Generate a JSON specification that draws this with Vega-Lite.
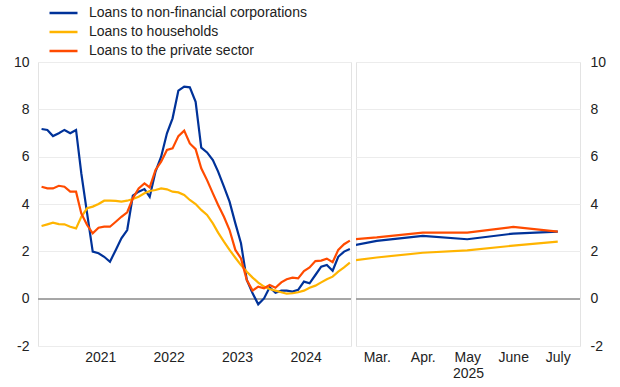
{
  "$schema": "https://vega.github.io/schema/vega-lite/v6.json",
  "background": "white",
  "padding": {"left": 12, "top": 6, "right": 0, "bottom": 0},
  "config": {
    "font": "Liberation Sans",
    "view": {"stroke": "#e3e3e3", "strokeWidth": 1},
    "axis": {
      "labelFont": "Liberation Sans",
      "labelFontSize": 14,
      "labelColor": "#222222",
      "titleFont": "Liberation Sans",
      "titleFontSize": 14,
      "titleFontWeight": "normal",
      "titleColor": "#222222",
      "domain": false,
      "ticks": false,
      "gridColor": "#ececec",
      "gridWidth": 1
    },
    "legend": {
      "orient": "none",
      "legendX": 10,
      "legendY": -56,
      "direction": "vertical",
      "title": null,
      "labelFont": "Liberation Sans",
      "labelFontSize": 14,
      "labelColor": "#222222",
      "labelLimit": 0,
      "symbolType": "stroke",
      "symbolStrokeWidth": 2.5,
      "symbolSize": 784,
      "clipHeight": 14,
      "labelOffset": 10,
      "rowPadding": 5
    }
  },
  "datasets": {
    "loans": [
      {"date": "2020-08-01", "Loans to non-financial corporations": 7.17, "Loans to households": 3.07, "Loans to the private sector": 4.73},
      {"date": "2020-09-01", "Loans to non-financial corporations": 7.13, "Loans to households": 3.14, "Loans to the private sector": 4.66},
      {"date": "2020-10-01", "Loans to non-financial corporations": 6.87, "Loans to households": 3.21, "Loans to the private sector": 4.66},
      {"date": "2020-11-01", "Loans to non-financial corporations": 6.99, "Loans to households": 3.15, "Loans to the private sector": 4.77},
      {"date": "2020-12-01", "Loans to non-financial corporations": 7.13, "Loans to households": 3.14, "Loans to the private sector": 4.73},
      {"date": "2021-01-01", "Loans to non-financial corporations": 6.99, "Loans to households": 3.04, "Loans to the private sector": 4.52},
      {"date": "2021-02-01", "Loans to non-financial corporations": 7.13, "Loans to households": 2.97, "Loans to the private sector": 4.52},
      {"date": "2021-03-01", "Loans to non-financial corporations": 5.3, "Loans to households": 3.46, "Loans to the private sector": 3.6},
      {"date": "2021-04-01", "Loans to non-financial corporations": 3.6, "Loans to households": 3.82, "Loans to the private sector": 3.11},
      {"date": "2021-05-01", "Loans to non-financial corporations": 1.99, "Loans to households": 3.89, "Loans to the private sector": 2.76},
      {"date": "2021-06-01", "Loans to non-financial corporations": 1.92, "Loans to households": 4.0, "Loans to the private sector": 3.0},
      {"date": "2021-07-01", "Loans to non-financial corporations": 1.77, "Loans to households": 4.14, "Loans to the private sector": 3.04},
      {"date": "2021-08-01", "Loans to non-financial corporations": 1.56, "Loans to households": 4.14, "Loans to the private sector": 3.04},
      {"date": "2021-09-01", "Loans to non-financial corporations": 2.06, "Loans to households": 4.13, "Loans to the private sector": 3.25},
      {"date": "2021-10-01", "Loans to non-financial corporations": 2.55, "Loans to households": 4.1, "Loans to the private sector": 3.46},
      {"date": "2021-11-01", "Loans to non-financial corporations": 2.9, "Loans to households": 4.14, "Loans to the private sector": 3.65},
      {"date": "2021-12-01", "Loans to non-financial corporations": 4.35, "Loans to households": 4.21, "Loans to the private sector": 4.24},
      {"date": "2022-01-01", "Loans to non-financial corporations": 4.52, "Loans to households": 4.31, "Loans to the private sector": 4.66},
      {"date": "2022-02-01", "Loans to non-financial corporations": 4.63, "Loans to households": 4.45, "Loans to the private sector": 4.87},
      {"date": "2022-03-01", "Loans to non-financial corporations": 4.3, "Loans to households": 4.55, "Loans to the private sector": 4.7},
      {"date": "2022-04-01", "Loans to non-financial corporations": 5.37, "Loans to households": 4.59, "Loans to the private sector": 5.44},
      {"date": "2022-05-01", "Loans to non-financial corporations": 6.0, "Loans to households": 4.66, "Loans to the private sector": 5.79},
      {"date": "2022-06-01", "Loans to non-financial corporations": 6.99, "Loans to households": 4.62, "Loans to the private sector": 6.28},
      {"date": "2022-07-01", "Loans to non-financial corporations": 7.62, "Loans to households": 4.52, "Loans to the private sector": 6.35},
      {"date": "2022-08-01", "Loans to non-financial corporations": 8.79, "Loans to households": 4.49, "Loans to the private sector": 6.87},
      {"date": "2022-09-01", "Loans to non-financial corporations": 8.96, "Loans to households": 4.38, "Loans to the private sector": 7.1},
      {"date": "2022-10-01", "Loans to non-financial corporations": 8.93, "Loans to households": 4.17, "Loans to the private sector": 6.56},
      {"date": "2022-11-01", "Loans to non-financial corporations": 8.32, "Loans to households": 4.0, "Loans to the private sector": 6.32},
      {"date": "2022-12-01", "Loans to non-financial corporations": 6.38, "Loans to households": 3.75, "Loans to the private sector": 5.51},
      {"date": "2023-01-01", "Loans to non-financial corporations": 6.18, "Loans to households": 3.54, "Loans to the private sector": 5.01},
      {"date": "2023-02-01", "Loans to non-financial corporations": 5.86, "Loans to households": 3.18, "Loans to the private sector": 4.45},
      {"date": "2023-03-01", "Loans to non-financial corporations": 5.37, "Loans to households": 2.79, "Loans to the private sector": 3.96},
      {"date": "2023-04-01", "Loans to non-financial corporations": 4.73, "Loans to households": 2.41, "Loans to the private sector": 3.46},
      {"date": "2023-05-01", "Loans to non-financial corporations": 4.1, "Loans to households": 2.06, "Loans to the private sector": 2.9},
      {"date": "2023-06-01", "Loans to non-financial corporations": 3.18, "Loans to households": 1.73, "Loans to the private sector": 2.06},
      {"date": "2023-07-01", "Loans to non-financial corporations": 2.34, "Loans to households": 1.42, "Loans to the private sector": 1.7},
      {"date": "2023-08-01", "Loans to non-financial corporations": 0.79, "Loans to households": 1.14, "Loans to the private sector": 0.79},
      {"date": "2023-09-01", "Loans to non-financial corporations": 0.23, "Loans to households": 0.89, "Loans to the private sector": 0.34},
      {"date": "2023-10-01", "Loans to non-financial corporations": -0.24, "Loans to households": 0.68, "Loans to the private sector": 0.51},
      {"date": "2023-11-01", "Loans to non-financial corporations": 0.01, "Loans to households": 0.51, "Loans to the private sector": 0.44},
      {"date": "2023-12-01", "Loans to non-financial corporations": 0.48, "Loans to households": 0.41, "Loans to the private sector": 0.58},
      {"date": "2024-01-01", "Loans to non-financial corporations": 0.25, "Loans to households": 0.34, "Loans to the private sector": 0.46},
      {"date": "2024-02-01", "Loans to non-financial corporations": 0.34, "Loans to households": 0.27, "Loans to the private sector": 0.69},
      {"date": "2024-03-01", "Loans to non-financial corporations": 0.34, "Loans to households": 0.21, "Loans to the private sector": 0.82},
      {"date": "2024-04-01", "Loans to non-financial corporations": 0.3, "Loans to households": 0.23, "Loans to the private sector": 0.89},
      {"date": "2024-05-01", "Loans to non-financial corporations": 0.37, "Loans to households": 0.27, "Loans to the private sector": 0.86},
      {"date": "2024-06-01", "Loans to non-financial corporations": 0.72, "Loans to households": 0.34, "Loans to the private sector": 1.17},
      {"date": "2024-07-01", "Loans to non-financial corporations": 0.65, "Loans to households": 0.46, "Loans to the private sector": 1.32},
      {"date": "2024-08-01", "Loans to non-financial corporations": 1.0, "Loans to households": 0.55, "Loans to the private sector": 1.59},
      {"date": "2024-09-01", "Loans to non-financial corporations": 1.35, "Loans to households": 0.69, "Loans to the private sector": 1.61},
      {"date": "2024-10-01", "Loans to non-financial corporations": 1.42, "Loans to households": 0.82, "Loans to the private sector": 1.69},
      {"date": "2024-11-01", "Loans to non-financial corporations": 1.18, "Loans to households": 0.93, "Loans to the private sector": 1.54},
      {"date": "2024-12-01", "Loans to non-financial corporations": 1.77, "Loans to households": 1.14, "Loans to the private sector": 2.06},
      {"date": "2025-01-01", "Loans to non-financial corporations": 1.99, "Loans to households": 1.32, "Loans to the private sector": 2.3},
      {"date": "2025-02-01", "Loans to non-financial corporations": 2.1, "Loans to households": 1.52, "Loans to the private sector": 2.45},
      {"date": "2025-03-01", "Loans to non-financial corporations": 2.44, "Loans to households": 1.74, "Loans to the private sector": 2.59},
      {"date": "2025-04-01", "Loans to non-financial corporations": 2.65, "Loans to households": 1.94, "Loans to the private sector": 2.79},
      {"date": "2025-05-01", "Loans to non-financial corporations": 2.51, "Loans to households": 2.04, "Loans to the private sector": 2.79},
      {"date": "2025-06-01", "Loans to non-financial corporations": 2.75, "Loans to households": 2.24, "Loans to the private sector": 3.03},
      {"date": "2025-07-01", "Loans to non-financial corporations": 2.83, "Loans to households": 2.41, "Loans to the private sector": 2.83}
    ]
  },
  "spacing": 0,
  "resolve": {"scale": {"color": "shared"}},
  "hconcat": [
    {
      "width": 313,
      "height": 284,
      "data": {"name": "loans"},
      "transform": [
        {"fold": ["Loans to non-financial corporations", "Loans to households", "Loans to the private sector"], "as": ["series", "value"]},
        {"filter": "toDate(datum.date) <= utc(2025, 1, 1)"}
      ],
      "layer": [
        {
          "mark": {"type": "rule", "color": "#a8a8a8", "strokeWidth": 1},
          "encoding": {
            "y": {
              "datum": 0, "type": "quantitative",
              "scale": {"domain": [-2, 10], "nice": false},
              "axis": {"title": null, "values": [-2, 0, 2, 4, 6, 8, 10], "labelPadding": 9, "grid": true, "orient": "left", "labelExpr": "replace(datum.label, '\u2212', '-')"}
            }
          }
        },
        {
          "mark": {"type": "line", "strokeWidth": 2.2},
          "encoding": {
            "x": {
              "field": "date", "type": "temporal",
              "scale": {"type": "utc", "domain": ["2020-07-13", "2025-02-07"], "nice": false},
              "axis": {
                "title": null,
                "grid": false,
                "labelPadding": 4,
                "values": [
                  {"year": 2021, "month": 6, "date": 10, "utc": true},
                  {"year": 2022, "month": 6, "date": 10, "utc": true},
                  {"year": 2023, "month": 6, "date": 10, "utc": true},
                  {"year": 2024, "month": 6, "date": 10, "utc": true}
                ],
                "labelExpr": "utcFormat(datum.value, '%Y')"
              }
            },
            "y": {
              "field": "value", "type": "quantitative",
              "scale": {"domain": [-2, 10], "nice": false},
              "axis": {"title": null, "values": [-2, 0, 2, 4, 6, 8, 10], "labelPadding": 9, "grid": true, "orient": "left", "labelExpr": "replace(datum.label, '\u2212', '-')"}
            },
            "color": {
              "field": "series", "type": "nominal",
              "scale": {
                "domain": ["Loans to non-financial corporations", "Loans to households", "Loans to the private sector"],
                "range": ["#003299", "#ffb400", "#ff4b00"]
              },
              "sort": ["Loans to non-financial corporations", "Loans to households", "Loans to the private sector"]
            }
          }
        }
      ]
    },
    {
      "width": 224,
      "height": 284,
      "data": {"name": "loans"},
      "transform": [
        {"fold": ["Loans to non-financial corporations", "Loans to households", "Loans to the private sector"], "as": ["series", "value"]},
        {"filter": "toDate(datum.date) >= utc(2025, 1, 1)"}
      ],
      "layer": [
        {
          "mark": {"type": "rule", "color": "#a8a8a8", "strokeWidth": 1},
          "encoding": {
            "y": {
              "datum": 0, "type": "quantitative",
              "scale": {"domain": [-2, 10], "nice": false},
              "axis": {"title": null, "values": [-2, 0, 2, 4, 6, 8, 10], "labelPadding": 10, "grid": true, "orient": "right", "labelExpr": "replace(datum.label, '\u2212', '-')"}
            }
          }
        },
        {
          "mark": {"type": "line", "strokeWidth": 2.2, "clip": true},
          "encoding": {
            "x": {
              "field": "date", "type": "temporal",
              "scale": {"type": "utc", "domain": ["2025-02-15", "2025-07-16"], "nice": false},
              "axis": {
                "title": "2025",
                "titlePadding": 2,
                "grid": false,
                "labelPadding": 4,
                "values": [
                  {"year": 2025, "month": 3, "date": 1, "utc": true},
                  {"year": 2025, "month": 4, "date": 1, "utc": true},
                  {"year": 2025, "month": 5, "date": 1, "utc": true},
                  {"year": 2025, "month": 6, "date": 1, "utc": true},
                  {"year": 2025, "month": 7, "date": 1, "utc": true}
                ],
                "labelExpr": "['Jan.','Feb.','Mar.','Apr.','May','June','July','Aug.'][utcmonth(datum.value)]"
              }
            },
            "y": {
              "field": "value", "type": "quantitative",
              "scale": {"domain": [-2, 10], "nice": false},
              "axis": {"title": null, "values": [-2, 0, 2, 4, 6, 8, 10], "labelPadding": 10, "grid": true, "orient": "right", "labelExpr": "replace(datum.label, '\u2212', '-')"}
            },
            "color": {
              "field": "series", "type": "nominal",
              "scale": {
                "domain": ["Loans to non-financial corporations", "Loans to households", "Loans to the private sector"],
                "range": ["#003299", "#ffb400", "#ff4b00"]
              },
              "sort": ["Loans to non-financial corporations", "Loans to households", "Loans to the private sector"]
            }
          }
        }
      ]
    }
  ]
}
